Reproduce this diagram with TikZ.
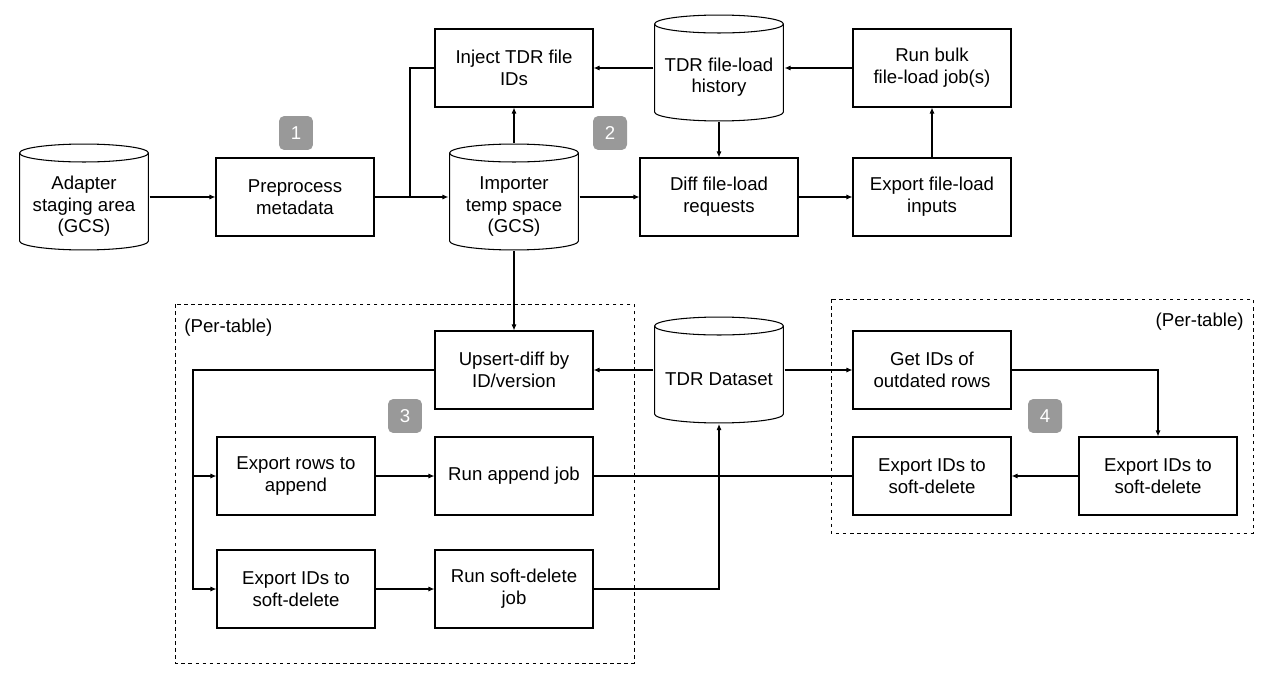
\documentclass[tikz,border=0pt]{standalone}
\usepackage{fontspec}
\setmainfont{Liberation Sans}
\usepackage{tikz}
\usetikzlibrary{arrows.meta}

\newcommand{\capry}{0.19cm}
\newcommand{\dbpad}{\rule{0pt}{0.64cm}}

\begin{document}
\begin{tikzpicture}[x=0.02cm, y=-0.02cm, line width=0.6pt,
	every node/.style={font=\fontsize{10.6pt}{12.4pt}\selectfont, align=center},
	>={Latex[length=1.2mm,width=1mm]},
	stepbox/.style={draw, line width=0.6pt, minimum width=3.16cm, minimum height=1.56cm, inner sep=2pt},
	db/.style={minimum width=2.6cm, minimum height=2.14cm, inner sep=0pt,
		path picture={
			\draw ([xshift=0.3pt,yshift=-\capry]path picture bounding box.north west)
				-- ([xshift=0.3pt,yshift=\capry]path picture bounding box.south west)
				arc[start angle=180, end angle=360, x radius=1.3cm-0.3pt, y radius=\capry-0.3pt]
				-- ([xshift=-0.3pt,yshift=-\capry]path picture bounding box.north east);
			\draw ([yshift=-\capry]path picture bounding box.north) ellipse [x radius=1.3cm-0.3pt, y radius=\capry-0.3pt];
		}},
	badge/.style={fill=black!40, rounded corners=3pt, minimum size=0.68cm, inner sep=0pt, text=white},
	frame/.style={draw, dash pattern=on 2pt off 2pt, line width=0.5pt}]
	\useasboundingbox (0,0) rectangle (1279,679);

	% dashed per-table groups
	\draw[frame] (175,304) rectangle (634,663);
	\draw[frame] (831,299) rectangle (1253,533);
	\node[anchor=west] (pertableL) at (178,328) {(Per-table)};
	\node[anchor=east] (pertableR) at (1250,322) {(Per-table)};

	% top part: file loading
	\node[db] (adapter) at (84,197) {\dbpad Adapter\\staging area\\(GCS)};
	\node[stepbox] (prep) at (295,197) {Preprocess\\metadata};
	\node[db] (importer) at (514,197) {\dbpad Importer\\temp space\\(GCS)};
	\node[stepbox] (inject) at (514,68) {Inject TDR file\\IDs};
	\node[db] (history) at (719,68) {\dbpad TDR file-load\\history};
	\node[stepbox] (diff) at (719,197) {Diff file-load\\requests};
	\node[stepbox] (exportfl) at (932,197) {Export file-load\\inputs};
	\node[stepbox] (runbulk) at (932,68) {Run bulk\\file-load job(s)};

	% bottom part: tabular data
	\node[stepbox] (upsert) at (514,370) {Upsert-diff by\\ID/version};
	\node[db] (dataset) at (719,370) {\dbpad TDR Dataset};
	\node[stepbox] (getids) at (932,370) {Get IDs of\\outdated rows};
	\node[stepbox] (exprows) at (296,476) {Export rows to\\append};
	\node[stepbox] (runappend) at (514,476) {Run append job};
	\node[stepbox] (expdel) at (296,589) {Export IDs to\\soft-delete};
	\node[stepbox] (rundel) at (514,589) {Run soft-delete\\job};
	\node[stepbox] (expdelmid) at (932,476) {Export IDs to\\soft-delete};
	\node[stepbox] (expdelright) at (1158,476) {Export IDs to\\soft-delete};

	% step numbers
	\node[badge] (b1) at (296,133) {1};
	\node[badge] (b2) at (610,133) {2};
	\node[badge] (b3) at (405,416) {3};
	\node[badge] (b4) at (1045,416) {4};

	\coordinate (join) at (410,197);
	\coordinate (rail) at (193,589);

	\draw[->] (adapter) -- (prep);
	\draw[->] (prep) -- (importer);
	\draw (inject.west) -| (join);
	\draw[->] (importer) -- (inject);
	\draw[->] (history) -- (inject);
	\draw[->] (runbulk) -- (history);
	\draw[->] (history) -- (diff);
	\draw[->] (importer) -- (diff);
	\draw[->] (diff) -- (exportfl);
	\draw[->] (exportfl) -- (runbulk);
	\draw[->] (importer) -- (upsert);
	\draw[->] (dataset) -- (upsert);
	\draw[->] (dataset) -- (getids);
	\draw[->] (upsert.west) -| (rail) -- (expdel.west);
	\draw[->] (rail |- exprows) -- (exprows.west);
	\draw[->] (exprows) -- (runappend);
	\draw[->] (expdel) -- (rundel);
	\draw[->] (rundel) -| (dataset);
	\draw (runappend) -- (expdelmid);
	\draw[->] (getids) -| (expdelright);
	\draw[->] (expdelright) -- (expdelmid);
\end{tikzpicture}
\end{document}
